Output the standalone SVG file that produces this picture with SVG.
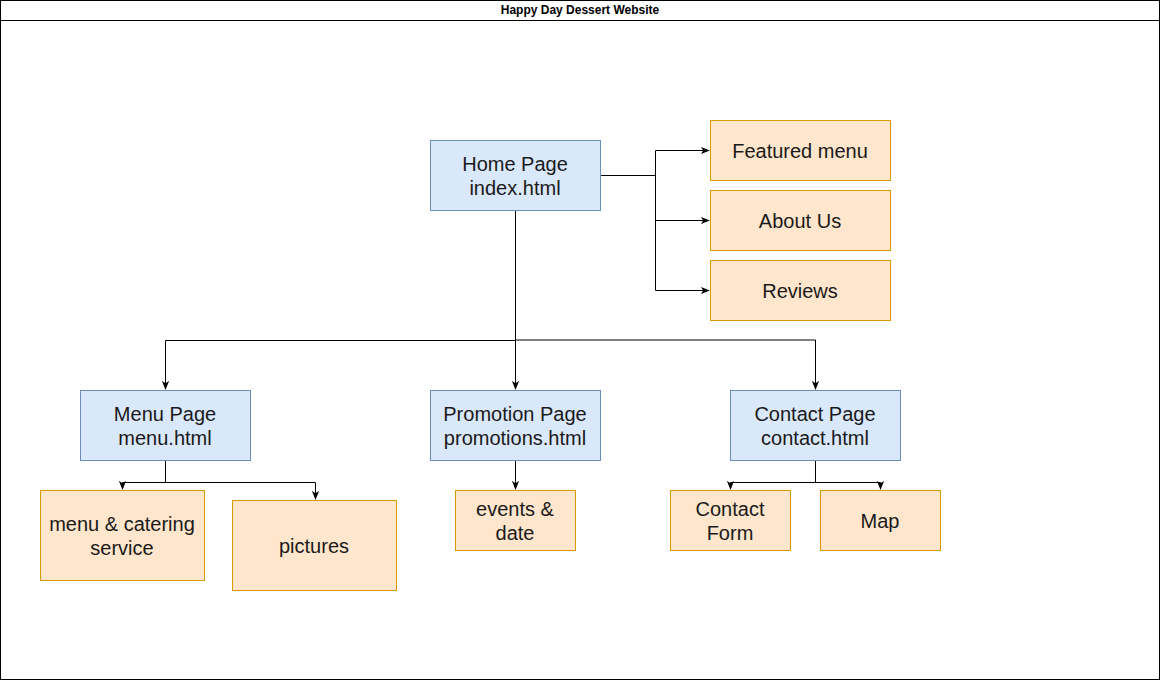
<svg xmlns="http://www.w3.org/2000/svg" width="1161" height="681" viewBox="0 0 1161 681">
<style>
.blue{fill:#dae8fc;stroke:#6c8ebf;stroke-width:1}
.orange{fill:#ffe6cc;stroke:#d79b00;stroke-width:1}
.t{font-family:"Liberation Sans",Arial,sans-serif;font-size:20px;fill:#1a1a1a;text-anchor:middle}
.c{fill:none;stroke:#000;stroke-width:1}
</style>
<defs>
<marker id="a" viewBox="0 0 10 10" refX="9" refY="5" markerWidth="9" markerHeight="9" markerUnits="userSpaceOnUse" orient="auto">
<path d="M0,1 L10,5 L0,9 L2.5,5 Z" fill="#000"/>
</marker>
</defs>
<rect width="1161" height="681" fill="#fff"/>
<g id="frame">
<rect x="0.5" y="0.5" width="1159" height="679" fill="none" stroke="#000"/>
<line x1="0.5" y1="20.5" x2="1159.5" y2="20.5" stroke="#000"/>
<text x="580" y="14" font-family="'Liberation Sans',Arial,sans-serif" font-size="12" font-weight="bold" text-anchor="middle" fill="#000">Happy Day Dessert Website</text>
</g>
<g id="connectors">
<path class="c" d="M515.5,210 V340.5 H165.5 V389" marker-end="url(#a)"/>
<path class="c" d="M515.5,340 H815.5 V389" marker-end="url(#a)"/>
<path class="c" d="M515.5,340 V389" marker-end="url(#a)"/>
<path class="c" d="M600,175.5 H655.5 V150.5 H709" marker-end="url(#a)"/>
<path class="c" d="M655.5,175 V220.5 H709" marker-end="url(#a)"/>
<path class="c" d="M655.5,220 V290.5 H709" marker-end="url(#a)"/>
<path class="c" d="M165.5,460 V482.5 H122.5 V489" marker-end="url(#a)"/>
<path class="c" d="M165.5,482.5 H315.5 V499" marker-end="url(#a)"/>
<path class="c" d="M515.5,460 V489" marker-end="url(#a)"/>
<path class="c" d="M815.5,460 V482.5 H730.5 V489" marker-end="url(#a)"/>
<path class="c" d="M815.5,482.5 H880.5 V489" marker-end="url(#a)"/>
</g>
<g id="home"><rect class="blue" x="430.5" y="140.5" width="170" height="70"/><text class="t" x="515" y="171">Home Page</text><text class="t" x="515" y="195">index.html</text></g>
<g id="featured"><rect class="orange" x="710.5" y="120.5" width="180" height="60"/><text class="t" x="800" y="158">Featured menu</text></g>
<g id="about"><rect class="orange" x="710.5" y="190.5" width="180" height="60"/><text class="t" x="800" y="228">About Us</text></g>
<g id="reviews"><rect class="orange" x="710.5" y="260.5" width="180" height="60"/><text class="t" x="800" y="298">Reviews</text></g>
<g id="menu"><rect class="blue" x="80.5" y="390.5" width="170" height="70"/><text class="t" x="165" y="421">Menu Page</text><text class="t" x="165" y="445">menu.html</text></g>
<g id="promotion"><rect class="blue" x="430.5" y="390.5" width="170" height="70"/><text class="t" x="515" y="421">Promotion Page</text><text class="t" x="515" y="445">promotions.html</text></g>
<g id="contact"><rect class="blue" x="730.5" y="390.5" width="170" height="70"/><text class="t" x="815" y="421">Contact Page</text><text class="t" x="815" y="445">contact.html</text></g>
<g id="catering"><rect class="orange" x="40.5" y="490.5" width="164" height="90"/><text class="t" x="122" y="531">menu &amp; catering</text><text class="t" x="122" y="555">service</text></g>
<g id="pictures"><rect class="orange" x="232.5" y="500.5" width="164" height="90"/><text class="t" x="314" y="553">pictures</text></g>
<g id="events"><rect class="orange" x="455.5" y="490.5" width="120" height="60"/><text class="t" x="515" y="516">events &amp;</text><text class="t" x="515" y="540">date</text></g>
<g id="contactform"><rect class="orange" x="670.5" y="490.5" width="120" height="60"/><text class="t" x="730" y="516">Contact</text><text class="t" x="730" y="540">Form</text></g>
<g id="map"><rect class="orange" x="820.5" y="490.5" width="120" height="60"/><text class="t" x="880" y="528">Map</text></g>
</svg>
